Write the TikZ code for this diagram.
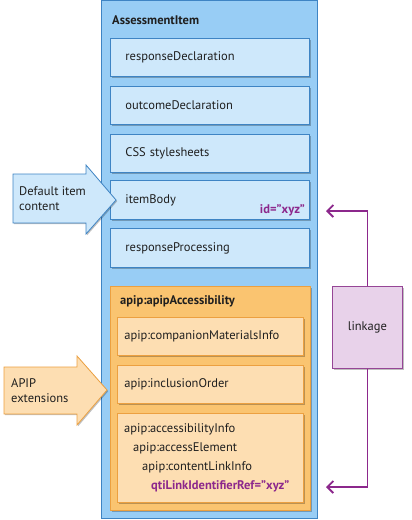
\documentclass[tikz,border=0pt]{standalone}
\usepackage{fontspec}
\setmainfont{PT Sans}
\usetikzlibrary{arrows.meta,shadows}
\definecolor{bOuterF}{RGB}{152,205,245}
\definecolor{bInnerF}{RGB}{206,232,251}
\definecolor{bLine}{RGB}{62,132,196}
\definecolor{oOuterF}{RGB}{250,196,112}
\definecolor{oInnerF}{RGB}{253,222,178}
\definecolor{oLine}{RGB}{236,160,64}
\definecolor{pFill}{RGB}{232,210,234}
\definecolor{pLine}{RGB}{150,70,150}
\definecolor{pDark}{RGB}{140,40,140}
\tikzset{
  x=1pt, y=-1pt,
  every node/.style={font=\fontsize{12.5}{15}\selectfont, text=black!88},
  shad/.style={drop shadow={shadow xshift=1.2pt, shadow yshift=-1.2pt, opacity=0.25, fill=black}},
  outerbox/.style={draw=bLine, fill=bOuterF, line width=1pt, anchor=north west, inner sep=0pt},
  bluebox/.style={draw=bLine, fill=bInnerF, line width=0.8pt, anchor=north west, inner xsep=15pt, inner ysep=0pt, align=left, minimum height=38pt, text width=169pt, shad},
  orangeouter/.style={draw=oLine, fill=oOuterF, line width=1pt, anchor=north west, inner sep=0pt, shad},
  orangebox/.style={draw=oLine, fill=oInnerF, line width=0.8pt, anchor=north west, inner xsep=7pt, inner ysep=0pt, align=left, text width=172pt, shad},
  titletext/.style={font=\fontsize{12.5}{15}\selectfont\bfseries, anchor=west, inner sep=0pt},
  bluearrow/.style={draw=bLine, fill=bInnerF, line width=0.8pt, shad},
  orangearrow/.style={draw=oLine, fill=oInnerF, line width=0.8pt, shad},
  linkbox/.style={draw=pLine, fill=pFill, line width=0.8pt, anchor=north west, inner sep=0pt, minimum width=70pt, minimum height=82pt, shad},
  link/.style={draw=pDark, line width=1.8pt, -{Straight Barb[length=6pt,width=12pt,line width=1.8pt]}},
  purpletext/.style={text=pDark, font=\fontsize{12.5}{15}\selectfont\bfseries},
}
\begin{document}
\begin{tikzpicture}
\useasboundingbox (0,0) rectangle (412,520);
% outer assessment item
\node[outerbox, minimum width=216pt, minimum height=518pt] (ai) at (101,0) {};
\node[titletext] (aititle) at (112,20) {AssessmentItem};
\node[bluebox] (rd) at (110,38) {responseDeclaration};
\node[bluebox] (od) at (110,86) {outcomeDeclaration};
\node[bluebox] (css) at (110,134) {CSS stylesheets};
\node[bluebox, minimum height=39pt] (ib) at (110,180) {itemBody};
\node[purpletext, anchor=east, inner sep=0pt] (idxyz) at (305,210) {id=”xyz”};
\node[bluebox, minimum height=39pt] (rp) at (110,228) {responseProcessing};
% apip accessibility
\node[orangeouter, minimum width=200pt, minimum height=224pt] (aa) at (110,286) {};
\node[titletext] (aatitle) at (120,301) {apip:apipAccessibility};
\node[orangebox, minimum height=38pt] (cm) at (117,317) {apip:companionMaterialsInfo};
\node[orangebox, minimum height=38pt] (io) at (117,365) {apip:inclusionOrder};
\node[orangebox, minimum height=89pt] (ai2) at (117,413) {};
\node[anchor=west, inner sep=0pt] (l1) at (124,429) {apip:accessibilityInfo};
\node[anchor=west, inner sep=0pt] (l2) at (133,448) {apip:accessElement};
\node[anchor=west, inner sep=0pt] (l3) at (142,467) {apip:contentLinkInfo};
\node[purpletext, anchor=west, inner sep=0pt] (l4) at (151,486) {qtiLinkIdentifierRef=”xyz”};
% callout arrows
\path[bluearrow] (13,174) -- (86,174) -- (86,165) -- (116,200) -- (86,234) -- (86,223) -- (13,223) -- cycle;
\node[anchor=west, inner sep=0pt, align=left] (dic) at (19,198.5) {Default item\\content};
\path[orangearrow] (4,367) -- (77,367) -- (77,356) -- (107,390) -- (77,425) -- (77,414) -- (4,414) -- cycle;
\node[anchor=west, inner sep=0pt, align=left] (apipx) at (11,390.5) {APIP\\extensions};
% linkage
\node[linkbox] (lk) at (332,286) {};
\node (lktext) at (lk.center) {linkage};
\coordinate (topend) at (326,211);
\coordinate (botend) at (326,487);
\draw[link] (lk.north) |- (topend);
\draw[link] (lk.south) |- (botend);
\end{tikzpicture}
\end{document}
